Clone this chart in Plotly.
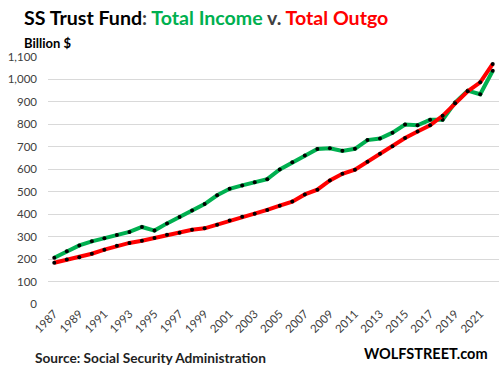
import plotly.graph_objects as go

years = list(range(1987, 2023))
income = [206, 235, 261, 279, 293, 307, 321, 343, 327, 359, 387,
          416, 445, 484, 513, 528, 542, 556, 599, 631, 661, 690, 694,
          682, 691, 730, 737, 763, 799, 796, 820, 820, 897, 950, 934, 1039]
outgo = [184, 198, 208, 224, 242, 259, 272, 282, 294, 308, 317,
         331, 337, 353, 372, 389, 402, 419, 438, 456, 488, 509, 550,
         580, 598, 633, 669, 703, 739, 768, 796, 838, 894, 947, 987, 1069]
y_ticks = list(range(0, 1101, 100))
x_ticks = list(range(1987, 2022, 2))

GREEN = "#00B050"
RED = "#FF0000"
FONT = "Lato"

fig = go.Figure()
fig.add_trace(go.Scatter(x=years, y=income, mode="lines+markers", name="Total Income",
                         line=dict(color=GREEN, width=4),
                         marker=dict(color="black", size=4)))
fig.add_trace(go.Scatter(x=years, y=outgo, mode="lines+markers", name="Total Outgo",
                         line=dict(color=RED, width=4),
                         marker=dict(color="black", size=4)))

fig.update_layout(
    width=499, height=372,
    margin=dict(l=48, r=0, t=57, b=68),
    paper_bgcolor="white", plot_bgcolor="white",
    showlegend=False, hovermode=False,
    font=dict(family=FONT, color="#404040", size=11.5),
    xaxis=dict(range=[1986.5, 2022.5], tickmode="array", tickvals=x_ticks,
               ticktext=[str(v) for v in x_ticks], tickangle=-45,
               showgrid=False, zeroline=False, showline=False,
               tickfont=dict(family=FONT, size=11.5, color="#404040")),
    yaxis=dict(range=[0, 1100], tickmode="array", tickvals=y_ticks,
               ticktext=[f"{v:,}" for v in y_ticks],
               showgrid=True, gridcolor="#D9D9D9", gridwidth=1,
               zeroline=False, showline=False, ticklabelstandoff=10,
               tickfont=dict(family=FONT, size=11.5, color="#404040")),
    annotations=[
        dict(xref="paper", yref="paper", x=-26/451, y=1 + (57 - 17) / 247.5,
             xanchor="left", yanchor="middle", showarrow=False,
             text=("<b>SS Trust Fund<span style='color:#404040'>:</span> "
                   "<span style='color:#00B050'>Total Income</span> "
                   "<span style='color:#404040'>v.</span> "
                   "<span style='color:#FF0000'>Total Outgo</span></b>"),
             font=dict(family=FONT, size=19.6, color="black")),
        dict(xref="paper", yref="paper", x=-26/451, y=1 + (57 - 43) / 247.5,
             xanchor="left", yanchor="middle", showarrow=False,
             text="<b>Billion $</b>", font=dict(family=FONT, size=13, color="black")),
        dict(xref="paper", yref="paper", x=-15/451, y=-(358 - 304.5) / 247.5,
             xanchor="left", yanchor="middle", showarrow=False,
             text="<b>Source: Social Security Administration</b>",
             font=dict(family=FONT, size=13.7, color="#1F1F1F")),
        dict(xref="paper", yref="paper", x=(490 - 48) / 451, y=-(354 - 304.5) / 247.5,
             xanchor="right", yanchor="middle", showarrow=False,
             text="<b>WOLFSTREET.com</b>",
             font=dict(family=FONT, size=14.5, color="black")),
    ],
)

fig.write_html("out.html", config={"displayModeBar": False, "staticPlot": True},
               post_script="document.body.style.margin='0';")
